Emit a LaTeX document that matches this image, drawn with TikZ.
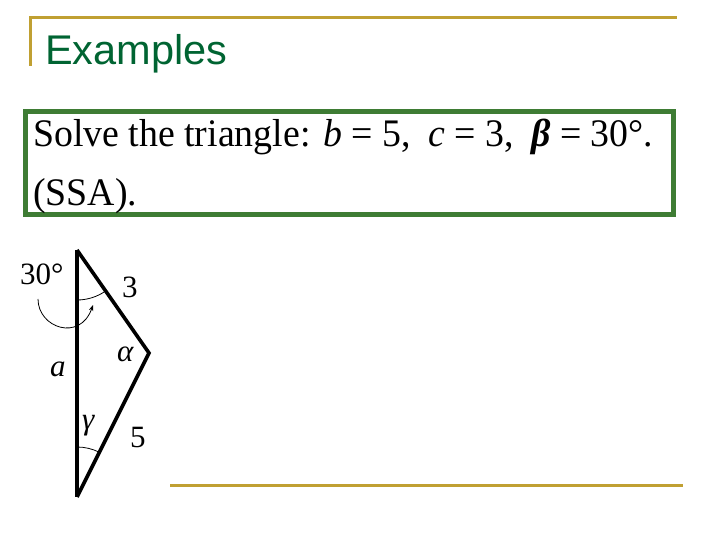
\documentclass[tikz,border=0pt]{standalone}
\usepackage{fontspec}
\setmainfont{Liberation Serif}
\newfontfamily\titlefont{Liberation Sans}
\usepackage{tikz}
\usetikzlibrary{arrows.meta, positioning}
\definecolor{slidegold}{RGB}{192,160,50}
\definecolor{slidegreen}{RGB}{0,100,50}
\definecolor{boxgreen}{RGB}{62,124,52}

\begin{document}
\begin{tikzpicture}[x=1pt,y=1pt,>={Stealth[length=6pt,width=4.5pt]},
        rule/.style={draw=slidegold,line width=3pt},
        probbox/.style={draw=boxgreen,line width=5pt,minimum width=648pt,minimum height=103pt,inner sep=0pt},
        probtext/.style={anchor=base west,inner sep=0pt,font=\fontsize{39}{45}\selectfont},
        lbl/.style={anchor=base west,inner sep=0pt,font=\fontsize{31}{36}\selectfont},
        side/.style={line width=3.6pt,line join=miter},
        angarc/.style={line width=0.8pt}]
    \useasboundingbox (0,0) rectangle (720,540);

    % slide frame
    \coordinate (tl) at (30.5,522);
    \coordinate (tr) at (677,522);
    \coordinate (tb) at (30.5,474);
    \coordinate (bl) at (170,54);
    \coordinate (br) at (683,54);
    \draw[rule] (tb) -- (tl) -- (tr);
    \draw[rule] (bl) -- (br);

    \node[anchor=base west,inner sep=0pt,text=slidegreen,font=\titlefont\fontsize{41.5}{48}\selectfont]
        (title) at (45,475) {Examples};

    % problem
    \node[probbox] (prob) at (349.5,377) {};
    \node[probtext] (line1) at (33,393)
        {\addfontfeature{FakeStretch=0.97}Solve the triangle: \textit{b} = 5,\hspace{0.45em}\textit{c} = 3,\hspace{0.45em}\textbf{\textit{β}} = 30°.};
    \node[probtext] (line2) at (33,334) {\addfontfeature{FakeStretch=0.97}(SSA).};

    % triangle
    \coordinate (A) at (77,290);
    \coordinate (B) at (149,187);
    \coordinate (C) at (77,43);
    \draw[side] (A) -- (B) -- (C);
    \draw[line width=4.4pt] (C) -- (A);

    \draw[angarc] ([shift={(-90:50)}]A) arc[start angle=-90,end angle=-55,radius=50];
    \draw[angarc] ([shift={(90:50)}]C) arc[start angle=90,end angle=63.4,radius=50];

    \coordinate (from) at (38,241);
    \coordinate (to) at (93,235);
    \draw[->,angarc] (from) .. controls (38,212) and (80,198) .. (to);

    \node[lbl] (deg) at (20,255) {30°};
    \node[lbl] (c) at (122,242) {3};
    \node[lbl] (alpha) at (117,178) {\textit{α}};
    \node[lbl] (a) at (50,163) {\textit{a}};
    \node[lbl] (gamma) at (82,110) {\textit{γ}};
    \node[lbl] (b) at (130,92) {5};
\end{tikzpicture}
\end{document}
